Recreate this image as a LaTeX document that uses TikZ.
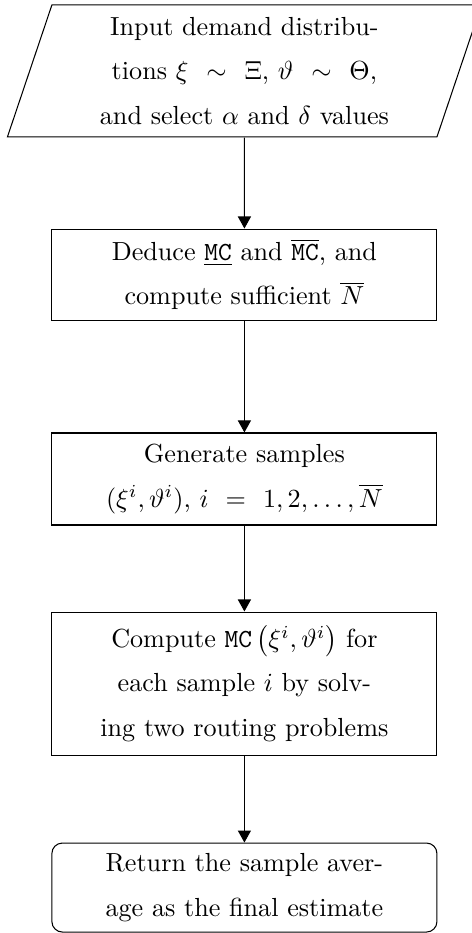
\documentclass[tikz,border=0pt]{standalone}
\usetikzlibrary{arrows.meta,shapes.geometric}
\tikzset{box/.style={draw,rectangle,align=center,text width=4.775cm,inner xsep=2mm,inner ysep=1mm,font={\fontsize{10}{17}\selectfont}}, io/.style={box,trapezium,trapezium left angle=70,trapezium right angle=110,trapezium stretches body=true,minimum width=6.344cm,minimum height=1.774cm}, final/.style={box,rounded corners=4pt}, flow/.style={-{Triangle[length=4.6pt,width=5pt]}}}

\begin{document}
\begin{tikzpicture}[x=1cm,y=1cm]
\useasboundingbox (0,0) rectangle (6.331,-12.540);
\node[io] (a) at (3.285,-0.954) {Input demand distribu-\\tions $\xi\,\sim\,\Xi$, $\vartheta\,\sim\,\Theta$,\\and select $\alpha$ and $\delta$ values};
\node[box,minimum height=1.223cm] (b) at (3.285,-3.690) {Deduce $\underline{\texttt{MC}}$ and $\overline{\texttt{MC}}$, and\\compute sufficient $\overline{N}$};
\node[box,minimum height=1.237cm] (c) at (3.285,-6.438) {Generate samples\\$(\xi^i,\vartheta^i)$, $i\,=\,1,2,\ldots,\overline{N}$};
\node[box,minimum height=1.922cm] (d) at (3.285,-9.187) {Compute \texttt{MC}\,$\left(\xi^i,\vartheta^i\right)$ for\\each sample $i$ by solv-\\ing two routing problems};
\node[final,minimum height=1.196cm] (e) at (3.285,-11.929) {Return the sample aver-\\age as the final estimate};
\draw[flow] (a)--(b);\draw[flow] (b)--(c);
\draw[flow] (c)--(d);\draw[flow] (d)--(e);
\end{tikzpicture}
\end{document}
